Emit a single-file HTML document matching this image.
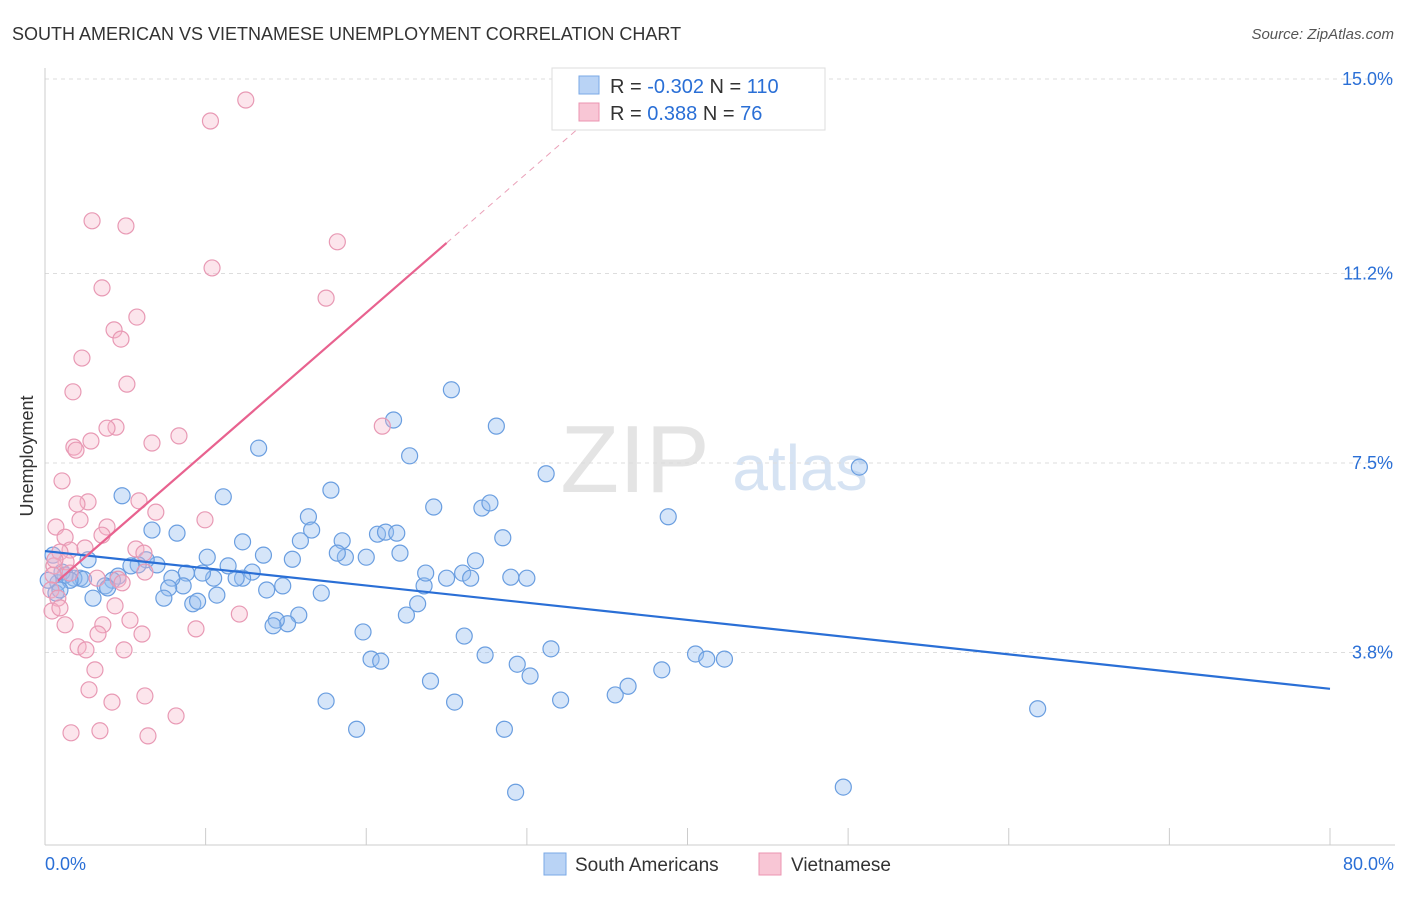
<!DOCTYPE html>
<html><head><meta charset="utf-8"><style>
body{margin:0;background:#fff;font-family:"Liberation Sans",sans-serif}
svg text{font-family:"Liberation Sans",sans-serif}
</style></head><body>
<svg id="c" width="1406" height="892">
<text x="12" y="40" font-size="18" fill="#333">SOUTH AMERICAN VS VIETNAMESE UNEMPLOYMENT CORRELATION CHART</text>
<text x="1394" y="39" font-size="15" fill="#555" font-style="italic" text-anchor="end">Source: ZipAtlas.com</text>
<text x="635" y="492" font-size="96" fill="#e4e4e4" font-family="Liberation Serif" text-anchor="middle">ZIP</text>
<text x="800" y="490" font-size="64" fill="#d6e3f3" text-anchor="middle">atlas</text>
<text transform="translate(33,456) rotate(-90)" font-size="18" fill="#333" text-anchor="middle">Unemployment</text>
<g id="grid"></g><g id="marks"></g>
<g>
<rect x="552" y="68" width="273" height="62" fill="#fff" stroke="#ddd"/>
<rect x="579" y="76" width="20" height="18" fill="#b9d3f5" stroke="#7aa8e6"/>
<rect x="579" y="103" width="20" height="18" fill="#f8c6d5" stroke="#eb94b1"/>
<text x="610" y="93" font-size="20" fill="#333">R = <tspan fill="#2a6fd6">-0.302</tspan>   N = <tspan fill="#2a6fd6">110</tspan></text>
<text x="610" y="120" font-size="20" fill="#333">R =   <tspan fill="#2a6fd6">0.388</tspan>   N =   <tspan fill="#2a6fd6">76</tspan></text>
</g>
<g>
<rect x="544" y="853" width="22" height="22" fill="#b9d3f5" stroke="#7aa8e6"/>
<text x="575" y="871" font-size="19" fill="#333">South Americans</text>
<rect x="759" y="853" width="22" height="22" fill="#f8c6d5" stroke="#eb94b1"/>
<text x="791" y="871" font-size="19" fill="#333">Vietnamese</text>
</g>
</svg>
<script>
const xTicks=[0,10,20,30,40,50,60,70,80];
const yTicks=[3.8,7.5,11.2,15.0];
const blueX=[4.8,6.66,8.22,11.1,13.3,12.3,13.6,15.4,16.4,16.6,15.9,17.8,18.5,18.7,18.2,20.0,20.7,21.2,21.9,21.7,22.7,22.1,25.3,24.2,27.2,27.7,28.1,28.5,26.8,26.0,26.5,25.0,23.6,23.7,23.2,22.5,29.0,30.0,31.2,38.8,50.7,61.8,49.7,29.3,28.6,25.5,24.0,27.4,26.1,29.4,30.2,31.5,32.1,35.5,36.3,38.4,40.5,41.2,42.3,19.8,20.3,20.9,19.4,17.5,15.8,15.1,14.4,14.2,17.2,14.8,13.8,12.9,12.3,11.9,11.4,10.7,10.5,9.8,10.1,8.8,8.6,7.9,7.7,7.4,9.2,9.5,6.97,6.3,5.8,5.35,4.55,4.2,3.74,2.68,2.99,3.9,2.18,1.8,1.25,0.8,0.5,0.68,1.06,2.4,1.56,0.2,0.93];
const blueY=[6.86,6.19,6.13,6.84,7.79,5.96,5.70,5.62,6.45,6.19,5.98,6.97,5.98,5.66,5.74,5.66,6.11,6.15,6.13,8.34,7.64,5.74,8.93,6.64,6.62,6.72,8.22,6.04,5.59,5.35,5.25,5.25,5.10,5.35,4.75,4.53,5.27,5.25,7.29,6.45,7.42,2.70,1.17,1.07,2.30,2.83,3.24,3.75,4.12,3.57,3.34,3.87,2.87,2.97,3.14,3.46,3.77,3.67,3.67,4.20,3.67,3.63,2.30,2.85,4.53,4.36,4.43,4.32,4.96,5.10,5.02,5.37,5.25,5.25,5.49,4.92,5.25,5.35,5.66,5.35,5.10,5.25,5.06,4.86,4.75,4.80,5.51,5.61,5.51,5.49,5.29,5.21,5.10,5.61,4.86,5.06,5.25,5.25,5.31,5.16,5.70,4.96,5.37,5.23,5.21,5.21,5.02];
const pinkX=[12.5,10.3,2.93,5.04,18.2,10.4,3.55,17.5,5.72,4.3,4.73,2.3,5.1,1.74,21.0,4.42,3.86,6.66,8.34,2.86,1.8,1.93,1.06,5.85,2.68,1.99,6.9,9.96,2.18,3.86,0.68,1.25,3.55,2.49,1.56,0.93,5.66,6.16,1.31,0.56,0.5,4.55,6.22,3.24,4.8,0.37,0.8,0.44,4.36,0.93,12.1,9.4,5.29,3.6,3.3,6.04,1.25,2.06,2.55,4.92,3.11,2.74,4.17,6.22,8.16,1.62,3.42,6.41,0.62,1.56];
const pinkY=[14.59,14.18,12.23,12.13,11.82,11.31,10.92,10.72,10.35,10.10,9.92,9.55,9.04,8.89,8.22,8.20,8.18,7.89,8.03,7.93,7.81,7.75,7.15,6.76,6.74,6.70,6.54,6.39,6.39,6.25,6.25,6.05,6.09,5.84,5.80,5.76,5.82,5.74,5.57,5.49,5.31,5.23,5.37,5.25,5.16,5.02,4.86,4.61,4.71,4.67,4.55,4.26,4.43,4.34,4.16,4.16,4.34,3.91,3.85,3.85,3.46,3.07,2.83,2.95,2.56,2.23,2.27,2.17,5.61,5.35];
const blueTrend=[5.78,3.09];
const pinkTrend=[4.98,0.2727];
const X=v=>45+v/80*1285, Y=v=>847-v*51.2;
const NS='http://www.w3.org/2000/svg';
function mk(t,a,p){const e=document.createElementNS(NS,t);for(const k in a)e.setAttribute(k,a[k]);p.appendChild(e);return e;}
const g=document.getElementById('grid'),m=document.getElementById('marks');
yTicks.forEach(t=>{
 const l=mk('line',{x1:45,x2:1395,y1:Y(t),y2:Y(t),stroke:'#ddd','stroke-dasharray':'4,4'},g);
 
 
 const tx=mk('text',{x:1393,y:Y(t)+6,'font-size':18,fill:'#2a6fd6','text-anchor':'end'},g);
 tx.textContent=t.toFixed(1)+'%';
 
 
});
mk('line',{x1:45,x2:45,y1:68,y2:845,stroke:'#ccc'},g);
mk('line',{x1:45,x2:1395,y1:845,y2:845,stroke:'#ccc'},g);
xTicks.forEach(t=>{
 const l=mk('line',{x1:X(t),x2:X(t),y1:828,y2:845,stroke:'#ccc'},g);
 
 
});
[[0,'0.0%','start',45],[80,'80.0%','end',1394]].forEach(a=>{
 const tx=mk('text',{x:a[3],y:870,'font-size':18,fill:'#2a6fd6','text-anchor':a[2]},g);
 tx.textContent=a[1];
 
 
});
blueX.forEach((x,i)=>{
 const c=mk('circle',{cx:X(x),cy:Y(blueY[i]),r:8,fill:'rgba(150,190,240,0.4)',stroke:'#6a9ee0','stroke-width':1.2},m);
 
 
});
pinkX.forEach((x,i)=>{
 const c=mk('circle',{cx:X(x),cy:Y(pinkY[i]),r:8,fill:'rgba(245,180,200,0.35)',stroke:'#e899b4','stroke-width':1.2},m);
 
 
});
const bl=mk('line',{x1:X(0),y1:Y(blueTrend[0]),x2:X(80),y2:Y(blueTrend[1]),stroke:'#2a6fd6','stroke-width':2.2},m);


const pf=x=>pinkTrend[0]+pinkTrend[1]*x;
const pl=mk('line',{x1:X(0.8),y1:Y(pf(0.8)),x2:X(25),y2:Y(pf(25)),stroke:'#e8628f','stroke-width':2.2},m);


const pd=mk('line',{x1:X(25),y1:Y(pf(25)),x2:X(34),y2:Y(pf(34)),stroke:'#eaa0b8','stroke-width':1,'stroke-dasharray':'6,5'},m);


</script>
</body></html>
